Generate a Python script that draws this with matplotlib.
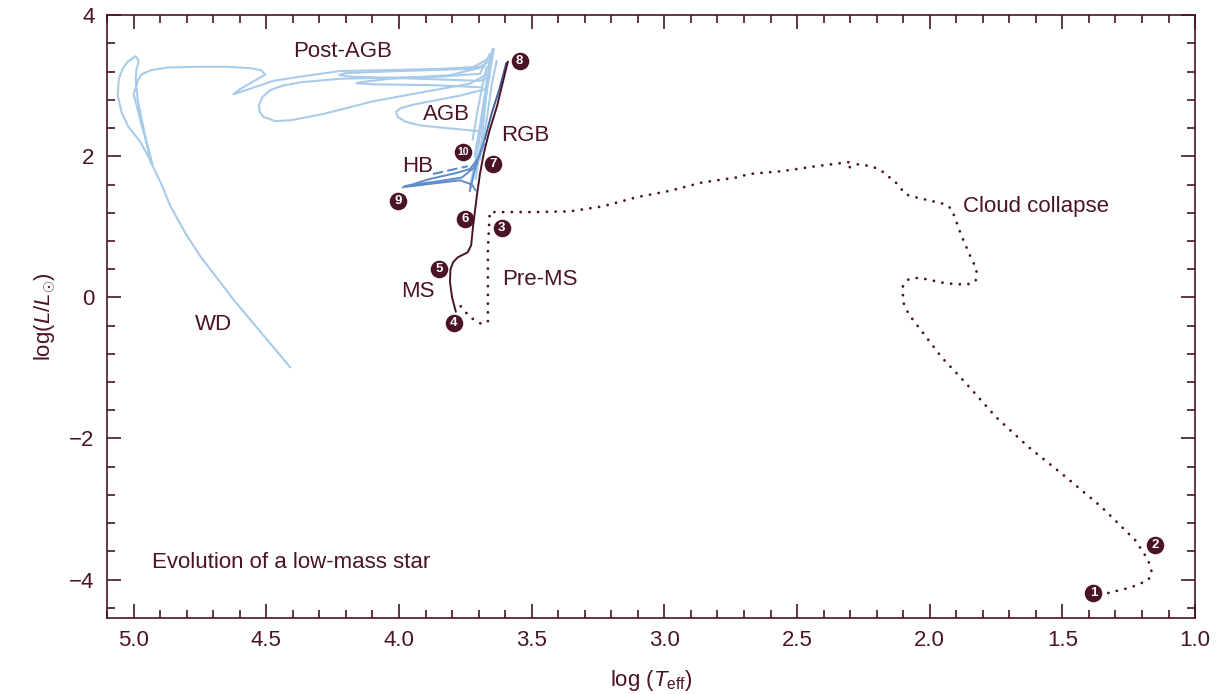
import matplotlib
matplotlib.use("Agg")
import matplotlib.pyplot as plt
from matplotlib.ticker import MultipleLocator

plt.rcParams['font.family'] = ['Liberation Sans', 'DejaVu Sans']
plt.rcParams['mathtext.fontset'] = 'custom'
plt.rcParams['mathtext.rm'] = 'Liberation Sans'
plt.rcParams['mathtext.it'] = 'Liberation Sans:italic'

dark = '#4a1424'
light = '#a9cbea'
mid = '#5f8cc8'
slate = '#40609a'

# cloud collapse + pre-main-sequence (dotted), from point 1
pre_x = [1.327, 1.241, 1.177, 1.162, 1.177, 1.226, 1.353, 1.489, 1.628, 1.752, 1.865, 1.955,
         2.030, 2.079, 2.101, 2.101, 2.079, 2.041, 1.940, 1.861, 1.827, 1.823, 1.842, 1.880,
         1.917, 1.940, 2.053, 2.090, 2.128, 2.180, 2.218, 2.278, 2.305, 2.300, 2.429, 2.556,
         2.680, 2.729, 2.857, 2.981, 3.105, 3.233, 3.357, 3.481, 3.658, 3.665, 3.665, 3.688,
         3.733, 3.782]
pre_y = [-4.19, -4.11, -4.01, -3.91, -3.72, -3.44, -2.97, -2.54, -2.12, -1.69, -1.21, -0.85,
         -0.48, -0.24, -0.06, 0.16, 0.26, 0.28, 0.20, 0.18, 0.23, 0.40, 0.54, 0.87,
         1.25, 1.32, 1.42, 1.46, 1.63, 1.79, 1.86, 1.89, 1.84, 1.92, 1.86, 1.79,
         1.75, 1.70, 1.63, 1.51, 1.42, 1.29, 1.22, 1.21, 1.21, 0.68, -0.34, -0.38,
         -0.28, -0.06]

# main sequence + red giant branch (solid)
ms_x = [3.786, 3.800, 3.808, 3.806, 3.796, 3.778, 3.741, 3.728, 3.722, 3.707, 3.695, 3.680,
        3.660, 3.630, 3.590]
ms_y = [-0.20, 0.00, 0.22, 0.40, 0.50, 0.57, 0.64, 0.74, 0.97, 1.43, 1.75, 2.05,
        2.35, 2.72, 3.34]

rgb_x = [3.676, 3.650, 3.622, 3.596]
rgb_y = [2.25, 2.62, 2.95, 3.32]

# horizontal branch
hb_a_x = [3.985, 3.883, 3.789, 3.733, 3.703, 3.677]
hb_a_y = [1.56, 1.68, 1.76, 1.82, 1.96, 2.24]
hb_b_x = [3.977, 3.846, 3.763, 3.714, 3.700]
hb_b_y = [1.58, 1.65, 1.70, 1.85, 2.00]
hb_c_x = [3.733, 3.718, 3.703, 3.680]
hb_c_y = [1.51, 1.75, 1.96, 2.17]
hb_d_x = [3.970, 3.860, 3.770, 3.725, 3.712]
hb_d_y = [1.57, 1.62, 1.66, 1.60, 1.52]
hb_dash_x = [3.872, 3.741]
hb_dash_y = [1.75, 1.86]

# AGB bundle
agb1_x = [3.733, 3.703, 3.680, 3.658, 3.643]
agb1_y = [1.56, 2.10, 2.67, 3.17, 3.52]
agb2_x = [3.711, 3.688, 3.673, 3.662, 3.650]
agb2_y = [1.68, 2.24, 2.81, 3.24, 3.45]
agb3_x = [3.695, 3.669, 3.650, 3.632]
agb3_y = [1.96, 2.53, 3.03, 3.35]
agb4_x = [3.722, 3.703, 3.684, 3.669]
agb4_y = [2.24, 2.67, 3.03, 3.27]
agb5_x = [3.715, 3.694, 3.676, 3.660, 3.655]
agb5_y = [2.00, 2.45, 2.90, 3.30, 3.40]

# AGB loop
loop_x = [3.707, 3.820, 3.921, 3.975, 4.005, 4.011, 3.995, 3.950, 3.883, 3.771, 3.677]
loop_y = [2.36, 2.40, 2.44, 2.49, 2.56, 2.63, 2.68, 2.73, 2.78, 2.86, 2.95]

# post-AGB track down to the white dwarf
post_x = [3.647, 3.658, 3.695, 3.846, 4.071, 4.222, 4.372, 4.474, 4.560, 4.624, 4.600, 4.504,
          4.520, 4.560, 4.650, 4.748, 4.870, 4.936, 4.970, 4.985, 5.000, 4.992, 4.974,
          4.944, 4.929, 4.974, 5.020, 5.045, 5.060, 5.056, 5.040, 5.023, 4.992, 4.981,
          4.990, 4.992, 4.985, 4.966, 4.936, 4.898, 4.861, 4.800, 4.748, 4.624, 4.410]
post_y = [3.52, 3.35, 3.27, 3.24, 3.22, 3.21, 3.13, 3.07, 2.96, 2.88, 2.95, 3.16,
          3.22, 3.25, 3.27, 3.27, 3.26, 3.22, 3.16, 3.07, 2.88, 2.77, 2.50,
          2.10, 1.89, 2.20, 2.42, 2.62, 2.86, 3.10, 3.25, 3.34, 3.42, 3.35,
          3.22, 3.10, 2.81, 2.46, 1.92, 1.63, 1.29, 0.88, 0.58, -0.03, -0.99]

# thermal pulse excursions
tp1_x = [3.658, 3.695, 3.846, 4.222, 4.372, 4.440, 4.485, 4.515, 4.528, 4.525, 4.511, 4.466,
         4.410, 4.286, 4.098, 3.910, 3.733, 3.665]
tp1_y = [3.45, 3.17, 3.13, 3.10, 3.05, 3.00, 2.94, 2.84, 2.72, 2.63, 2.56, 2.50,
         2.51, 2.60, 2.78, 2.91, 3.03, 3.17]
tp2_x = [3.650, 3.733, 3.996, 4.203, 4.225, 4.184, 3.921, 3.695, 3.658]
tp2_y = [3.41, 3.24, 3.21, 3.18, 3.155, 3.13, 3.10, 3.07, 3.13]
tp3_x = [3.680, 3.808, 4.034, 4.147, 4.160, 4.090, 3.883, 3.695]
tp3_y = [3.27, 3.15, 3.10, 3.05, 3.035, 3.02, 3.01, 2.98]

# numbered stages
num_labels = ['1', '2', '3', '4', '5', '6', '7', '8', '9', '10']
num_x = [1.383, 1.150, 3.613, 3.793, 3.850, 3.752, 3.647, 3.545, 4.004, 3.759]
num_y = [-4.19, -3.51, 0.99, -0.36, 0.40, 1.11, 1.89, 3.35, 1.36, 2.06]

# phase names
phase_labels = ['Post-AGB', 'AGB', 'RGB', 'HB', 'MS', 'Pre-MS', 'Cloud collapse', 'WD']
phase_x = [4.214, 3.820, 3.526, 3.929, 3.929, 3.470, 1.598, 4.699]
phase_y = [3.49, 2.60, 2.29, 1.85, 0.085, 0.26, 1.29, -0.38]

fig = plt.figure(figsize=(12.17, 6.94), dpi=100)
ax = fig.add_axes([0.088, 0.110, 0.894, 0.868])

lw_light = 1.5
ax.plot(post_x, post_y, color=light, lw=lw_light)
for xs, ys in [(tp1_x, tp1_y), (tp2_x, tp2_y), (tp3_x, tp3_y), (loop_x, loop_y),
               (agb1_x, agb1_y), (agb2_x, agb2_y), (agb3_x, agb3_y), (agb4_x, agb4_y),
               (agb5_x, agb5_y)]:
    ax.plot(xs, ys, color=light, lw=lw_light)
for xs, ys in [(hb_a_x, hb_a_y), (hb_b_x, hb_b_y), (hb_c_x, hb_c_y), (hb_d_x, hb_d_y)]:
    ax.plot(xs, ys, color=mid, lw=1.4)
ax.plot(hb_dash_x, hb_dash_y, color=mid, lw=1.5, ls=(0, (5, 2)))

ax.plot(pre_x, pre_y, color=dark, lw=2.0, ls=(0, (0.05, 3.1)),
        dash_capstyle='round', solid_capstyle='round')
ax.plot(rgb_x, rgb_y, color=slate, lw=1.4)
ax.plot(ms_x, ms_y, color=dark, lw=1.4)

ax.scatter(num_x, num_y, s=160, color=dark, zorder=5, linewidths=0)
for lab, x, y in zip(num_labels, num_x, num_y):
    ax.text(x, y, lab, color='white', fontsize=7.5 if len(lab) > 1 else 9.5,
            fontweight='bold', ha='center', va='center', zorder=6)

for lab, x, y in zip(phase_labels, phase_x, phase_y):
    ax.text(x, y, lab, color=dark, fontsize=16, ha='center', va='center')
ax.text(4.929, -3.76, 'Evolution of a low-mass star', color=dark, fontsize=16,
        ha='left', va='center')

ax.set_xlim(5.1, 1.0)
ax.set_ylim(-4.54, 4.0)
ax.xaxis.set_major_locator(MultipleLocator(0.5))
ax.xaxis.set_minor_locator(MultipleLocator(0.1))
ax.yaxis.set_major_locator(MultipleLocator(2))
ax.yaxis.set_minor_locator(MultipleLocator(0.4))
ax.xaxis.set_major_formatter(plt.FuncFormatter(lambda v, p: f'{v:.1f}'))
ax.yaxis.set_major_formatter(plt.FuncFormatter(lambda v, p: f'{v:.0f}'.replace('-', '\u2212')))

for sp in ax.spines.values():
    sp.set_color(dark)
    sp.set_linewidth(1.2)
ax.tick_params(which='both', direction='in', top=True, right=True, color=dark,
               labelcolor=dark, labelsize=16, width=1.2)
ax.tick_params(which='major', length=10, pad=9)
ax.tick_params(which='minor', length=5.5)

ax.set_xlabel(r'log ($T_{\rm eff}$)', color=dark, fontsize=16, labelpad=12)
ax.set_ylabel(r'log($L/L_{\odot}$)', color=dark, fontsize=16, labelpad=8)

fig.savefig('out.png', dpi=100)
